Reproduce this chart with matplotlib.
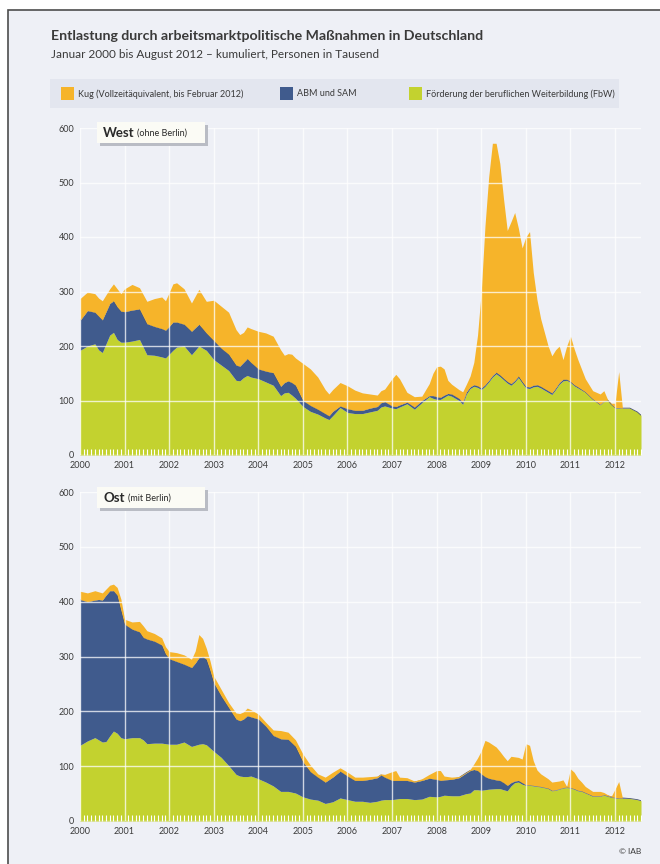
import matplotlib.pyplot as plt
from matplotlib.patches import Rectangle

# months since January 2000, levels are cumulative (FbW, FbW+ABM/SAM, total incl. Kug)
west_months = [0, 2, 4, 5, 6, 8, 9, 10, 11, 12, 14, 16, 18, 20, 22, 23, 24, 25, 26, 28,
               30, 32, 34, 36, 38, 40, 42, 43, 44, 45, 46, 48, 50, 52, 54, 55, 56, 57, 58, 60,
               62, 64, 66, 67, 68, 70, 72, 74, 76, 78, 80, 81, 82, 84, 85, 86, 88, 90, 92, 94,
               95, 96, 97, 98, 99, 100, 102, 103, 104, 105, 106, 107, 108, 109, 110, 111, 112, 113, 114, 115,
               116, 117, 118, 119, 120, 121, 122, 123, 124, 126, 127, 128, 129, 130, 131, 132, 133, 134, 136, 138,
               140, 141, 142, 143, 144, 145, 146, 148, 150, 151]
west_fbw = [192, 200, 204, 193, 188, 220, 225, 212, 207, 207, 209, 212, 184, 183, 180, 178, 185, 192, 198, 200,
            184, 200, 192, 175, 165, 155, 137, 136, 142, 146, 143, 140, 134, 128, 109, 114, 115, 110, 104, 89,
            80, 75, 68, 65, 72, 87, 78, 76, 76, 79, 82, 88, 90, 86, 85, 88, 94, 84, 96, 107,
            104, 102, 102, 106, 110, 108, 100, 93, 112, 122, 126, 124, 120, 126, 134, 143, 149, 144, 138, 132,
            128, 134, 142, 132, 123, 122, 125, 126, 123, 115, 111, 120, 130, 136, 137, 133, 127, 123, 115, 102,
            92, 98, 100, 92, 86, 86, 86, 86, 79, 73]
west_fbw_abm = [247, 265, 262, 255, 248, 278, 283, 272, 264, 263, 266, 268, 241, 236, 232, 229, 236, 244, 244, 240,
                227, 240, 224, 210, 196, 185, 165, 163, 170, 177, 170, 158, 154, 151, 126, 133, 136, 133, 128, 100,
                91, 84, 76, 72, 80, 90, 85, 82, 82, 86, 89, 96, 98, 90, 89, 92, 97, 88, 100, 109,
                109, 107, 106, 110, 113, 112, 104, 97, 116, 125, 129, 127, 123, 129, 137, 146, 152, 147, 141, 135,
                131, 137, 145, 135, 126, 125, 128, 129, 126, 118, 114, 123, 133, 139, 139, 135, 129, 125, 116, 103,
                93, 99, 101, 93, 87, 87, 86, 86, 79, 73]
west_total = [287, 299, 296, 288, 283, 305, 314, 305, 296, 305, 313, 307, 282, 287, 290, 283, 298, 314, 316, 305,
              279, 304, 282, 284, 273, 262, 230, 221, 225, 235, 232, 227, 224, 218, 193, 183, 186, 185, 178, 168,
              158, 143, 120, 112, 120, 133, 127, 119, 114, 112, 110, 118, 121, 140, 148, 140, 115, 107, 108, 131,
              150, 162, 163, 158, 137, 130, 120, 116, 130, 145, 170, 220, 300, 420, 510, 572, 572, 535, 470, 412,
              428, 445, 416, 380, 400, 410, 335, 285, 250, 200, 182, 193, 200, 175, 200, 218, 195, 175, 140, 118,
              112, 118, 102, 95, 95, 153, 86, 86, 79, 73]

ost_months = [0, 2, 4, 5, 6, 7, 8, 9, 10, 11, 12, 14, 16, 17, 18, 20, 22, 23, 24, 26,
              28, 30, 31, 32, 33, 34, 35, 36, 38, 40, 42, 43, 44, 45, 46, 48, 50, 52, 54, 56,
              58, 60, 62, 64, 66, 68, 70, 72, 74, 76, 78, 80, 81, 82, 84, 85, 86, 88, 90, 92,
              94, 96, 97, 98, 100, 102, 104, 105, 106, 107, 108, 109, 110, 112, 113, 114, 115, 116, 117, 118,
              119, 120, 121, 122, 123, 124, 126, 127, 128, 129, 130, 131, 132, 133, 134, 135, 136, 138, 140, 141,
              142, 143, 144, 145, 146, 148, 150, 151]
ost_fbw = [138, 146, 152, 148, 144, 145, 155, 164, 160, 152, 150, 152, 152, 148, 141, 142, 142, 141, 140, 140,
           144, 136, 138, 140, 141, 139, 133, 127, 116, 101, 85, 82, 81, 81, 82, 77, 71, 64, 54, 54,
           51, 44, 40, 38, 32, 35, 42, 39, 36, 36, 34, 36, 38, 39, 39, 40, 41, 41, 39, 40,
           45, 44, 45, 47, 46, 46, 50, 51, 57, 57, 56, 57, 58, 59, 59, 57, 55, 64, 70, 71,
           67, 65, 65, 64, 63, 62, 59, 55, 56, 58, 60, 61, 60, 58, 55, 54, 51, 45, 45, 47,
           45, 43, 42, 41, 41, 41, 39, 37]
ost_fbw_abm = [404, 400, 403, 404, 403, 412, 420, 420, 412, 385, 359, 350, 345, 335, 332, 328, 321, 305, 296, 291,
               286, 280, 288, 298, 300, 295, 275, 252, 228, 207, 186, 183, 186, 192, 190, 186, 173, 156, 150, 149,
               136, 108, 90, 80, 71, 80, 91, 82, 74, 74, 76, 79, 84, 80, 74, 74, 74, 74, 71, 74,
               78, 76, 74, 75, 76, 79, 88, 92, 94, 92, 86, 81, 78, 75, 74, 70, 65, 70, 73, 74,
               70, 66, 66, 65, 64, 63, 60, 56, 57, 59, 61, 62, 61, 59, 56, 55, 52, 46, 46, 48,
               46, 44, 43, 42, 42, 41, 39, 37]
ost_total = [419, 416, 420, 418, 416, 423, 430, 432, 426, 405, 368, 363, 364, 356, 347, 342, 334, 318, 309, 307,
             303, 295, 310, 340, 333, 315, 292, 264, 240, 216, 197, 196, 199, 206, 203, 195, 180, 166, 165, 162,
             148, 122, 102, 86, 80, 89, 97, 89, 80, 80, 81, 82, 86, 85, 90, 92, 80, 79, 73, 77,
             85, 92, 92, 82, 80, 81, 89, 94, 104, 115, 128, 147, 144, 135, 127, 118, 110, 118, 117, 116,
             113, 141, 138, 110, 93, 86, 77, 71, 72, 73, 75, 63, 95, 89, 78, 71, 63, 54, 54, 52,
             48, 45, 58, 72, 42, 41, 39, 37]

years = list(range(2000, 2013))
y_ticks = [0, 100, 200, 300, 400, 500, 600]

title = 'Entlastung durch arbeitsmarktpolitische Maßnahmen in Deutschland'
subtitle = 'Januar 2000 bis August 2012 – kumuliert, Personen in Tausend'
legend_labels = ['Kug (Vollzeitäquivalent, bis Februar 2012)', 'ABM und SAM',
                 'Förderung der beruflichen Weiterbildung (FbW)']

ORANGE = '#f6b42a'
BLUE = '#405b8d'
GREEN = '#c3d22f'
BG = '#eef0f6'
TEXT = '#3a3a3a'

plt.rcParams['font.family'] = ['Lato', 'DejaVu Sans']

W, H = 660, 864


def fx(px):
    return px / W


def fy(py):
    return 1 - py / H


def draw_panel(fig, top_px, bottom_px, months, fbw, fbw_abm, total, name, sub, box_top, sub_x):
    ax = fig.add_axes([fx(80), fy(bottom_px), fx(641 - 80), (bottom_px - top_px) / H])
    ax.set_facecolor('none')
    ax.fill_between(months, 0, fbw, color=GREEN, lw=0, zorder=2)
    ax.fill_between(months, fbw, fbw_abm, color=BLUE, lw=0, zorder=2)
    ax.plot(months, fbw_abm, color='#4a5570', lw=0.6, zorder=2)
    ax.fill_between(months, fbw_abm, total, color=ORANGE, lw=0, zorder=2)

    ax.set_xlim(0, 151)
    ax.set_ylim(0, 600)
    ax.set_xticks([12 * i for i in range(len(years))])
    ax.set_xticklabels([str(y) for y in years])
    ax.set_xticks(range(0, 152), minor=True)
    ax.set_yticks(y_ticks)
    ax.tick_params(axis='both', which='major', labelsize=6.5, colors=TEXT, length=0, pad=4)
    ax.tick_params(axis='x', which='minor', direction='in', length=4, width=0.8,
                   color='white', bottom=True)
    ax.grid(True, color='white', lw=1.0, alpha=0.75, zorder=3)
    ax.set_axisbelow(False)
    for s in ax.spines.values():
        s.set_visible(False)

    # label box with shadow
    fig.patches.append(Rectangle((fx(100), fy(box_top + 24)), fx(108), 21 / H,
                                 transform=fig.transFigure, facecolor='#b9bcc4', lw=0, zorder=5))
    fig.patches.append(Rectangle((fx(97), fy(box_top + 21)), fx(108), 21 / H,
                                 transform=fig.transFigure, facecolor='#fbfbf5', lw=0, zorder=6))
    fig.text(fx(103), fy(box_top + 11), name, fontsize=9.5, fontweight='bold',
             color='#2a2a2a', va='center', ha='left', zorder=7)
    fig.text(fx(sub_x), fy(box_top + 11.5), sub, fontsize=6.5,
             color='#2a2a2a', va='center', ha='left', zorder=7)
    return ax


def main():
    fig = plt.figure(figsize=(W / 100, H / 100), dpi=100)
    fig.patch.set_facecolor('white')

    # framed background (left and top edge visible)
    fig.patches.append(Rectangle((fx(8), -0.05), 1, fy(10) + 0.05, transform=fig.transFigure,
                                 facecolor=BG, edgecolor='#4d4d4d', lw=1.2, zorder=-5))

    fig.text(fx(51), fy(36), title, fontsize=10.2, fontweight='bold', color=TEXT,
             va='center', ha='left')
    fig.text(fx(51), fy(55), subtitle, fontsize=8.5, color=TEXT, va='center', ha='left')

    # legend band
    fig.patches.append(Rectangle((fx(50), fy(108)), fx(569), 29 / H, transform=fig.transFigure,
                                 facecolor='#e3e6ef', lw=0, zorder=-4))
    legend_colors = [ORANGE, BLUE, GREEN]
    legend_x = [61, 280, 409]
    for lx, col, lab in zip(legend_x, legend_colors, legend_labels):
        fig.patches.append(Rectangle((fx(lx), fy(100)), fx(13), 13 / H,
                                     transform=fig.transFigure, facecolor=col, lw=0, zorder=2))
        fig.text(fx(lx + 17), fy(94), lab, fontsize=6.5, color=TEXT, va='center', ha='left')

    draw_panel(fig, 128, 455, west_months, west_fbw, west_fbw_abm, west_total,
               'West', '(ohne Berlin)', 122, 137)
    draw_panel(fig, 492, 821, ost_months, ost_fbw, ost_fbw_abm, ost_total,
               'Ost', '(mit Berlin)', 487, 128)

    fig.text(fx(641), fy(851), '© IAB', fontsize=6, color=TEXT, va='center', ha='right')

    fig.savefig('out.png', dpi=100)


if __name__ == '__main__':
    main()
